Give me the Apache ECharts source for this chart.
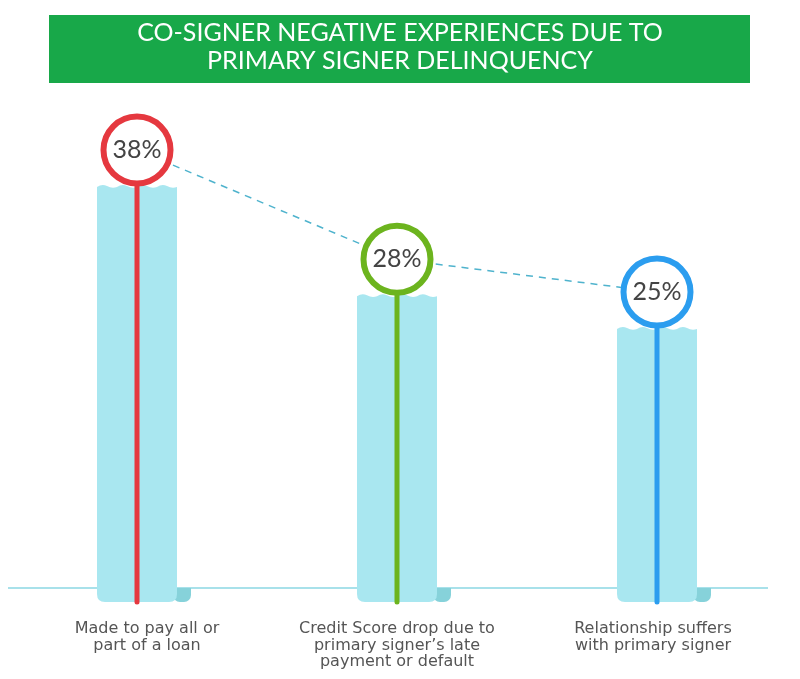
<!DOCTYPE html>
<html><head><meta charset="utf-8">
<script src="https://cdn.jsdelivr.net/npm/echarts@6/dist/echarts.min.js"></script>
<style>html,body{margin:0;padding:0;background:#fff}#c{width:800px;height:679px}</style>
</head><body><div id="c"></div>
<script>
const titleLines = ['CO-SIGNER NEGATIVE EXPERIENCES DUE TO', 'PRIMARY SIGNER DELINQUENCY'];
const categories = ['Made to pay all or\npart of a loan', 'Credit Score drop due to\nprimary signer\u2019s late\npayment or default', 'Relationship suffers\nwith primary signer'];
const values = [38, 28, 25];
const labels = ['38%', '28%', '25%'];
const palette = ['#e5383f', '#6cb41e', '#2b9def'];
const labelShift = [20, 0, -8];

const chart = echarts.init(document.getElementById('c'));
const BAR_W = 80, CIRCLE_OFF = 37, R = 33.5;

function wavePath(x0, x1, y, yb, r) {
  const n = 4, w = (x1 - x0) / n;
  let d = `M${x0},${y}`;
  for (let i = 0; i < n; i++) {
    const a = x0 + i * w;
    d += ` Q${a + w * 0.25},${y - 3.5} ${a + w * 0.5},${y - 1}`;
    d += ` Q${a + w * 0.75},${y + 2} ${a + w},${y}`;
  }
  d += ` L${x1},${yb - r} Q${x1},${yb} ${x1 - r},${yb} L${x0 + r},${yb} Q${x0},${yb} ${x0},${yb - r} Z`;
  return d;
}

const teeth = (x, dir) => {
  const pts = [];
  for (let y = 15; y <= 85; y += 4) { pts.push([x + ((y / 4) % 2 ? dir * 3 : 0), y]); }
  return pts;
};
const leftEdge = teeth(46, 1), rightEdge = teeth(753, -1).reverse();
const bannerPts = leftEdge.concat(rightEdge);

chart.setOption({
  animation: false,
  title: {
    text: titleLines.join('\n'), left: 'center', top: 14,
    textStyle: { color: '#fff', fontSize: 25, fontWeight: 'normal', fontFamily: 'Lato', lineHeight: 28 }
  },
  graphic: [
    { type: 'polygon', shape: { points: bannerPts }, style: { fill: '#18a849' }, z: -1 },
    { type: 'line', shape: { x1: 8, y1: 588, x2: 768, y2: 588 }, style: { stroke: '#a8e1ea', lineWidth: 2 }, z: -1 }
  ],
  grid: { left: 7, right: 13, top: 56, bottom: 77 },
  xAxis: {
    type: 'category',
    data: categories.map((c, i) => ({ value: c, textStyle: { padding: labelShift[i] >= 0 ? [0, 0, 0, labelShift[i]] : [0, -labelShift[i], 0, 0] } })),
    axisLine: { show: false }, axisTick: { show: false },
    axisLabel: { margin: 19, fontSize: 16, lineHeight: 16.5, color: '#555', fontFamily: 'DejaVu Sans', interval: 0 }
  },
  yAxis: { type: 'value', min: 0, max: 50, show: false, splitLine: { show: false } },
  series: [
    {
      type: 'custom', z: 1,
      data: values.map((v, i) => [i, v]),
      renderItem: (params, api) => {
        const i = api.value(0);
        const top = api.coord([i, api.value(1)]);
        const base = api.coord([i, 0]);
        const x0 = top[0] - BAR_W / 2, x1 = top[0] + BAR_W / 2;
        return {
          type: 'group', children: [
            { type: 'rect', shape: { x: x1 - 4, y: base[1] - 14, width: 18, height: 14, r: [0, 0, 7, 7] }, style: { fill: '#86d2da' } },
            { type: 'path', shape: { pathData: wavePath(x0, x1, top[1], base[1], 8) }, style: { fill: '#a9e7f0' } },
            { type: 'line', shape: { x1: top[0], y1: top[1] - CIRCLE_OFF, x2: top[0], y2: base[1] }, style: { stroke: palette[i], lineWidth: 5, lineCap: 'round' } }
          ]
        };
      }
    },
    {
      type: 'custom', z: 2,
      data: values.map((v, i) => [i, v]),
      renderItem: (params, api) => {
        const i = api.value(0);
        if (i >= values.length - 1) return null;
        const a = api.coord([i, values[i]]);
        const b = api.coord([i + 1, values[i + 1]]);
        return { type: 'line', shape: { x1: a[0], y1: a[1] - CIRCLE_OFF, x2: b[0], y2: b[1] - CIRCLE_OFF }, style: { stroke: '#4fb3cd', lineWidth: 1.5, lineDash: [7, 6] } };
      }
    },
    {
      type: 'custom', z: 3,
      data: values.map((v, i) => [i, v]),
      renderItem: (params, api) => {
        const i = api.value(0);
        const p = api.coord([i, api.value(1)]);
        const cy = p[1] - CIRCLE_OFF;
        return {
          type: 'group', children: [
            { type: 'circle', shape: { cx: p[0], cy: cy, r: R }, style: { fill: '#fff', stroke: palette[i], lineWidth: 6 } },
            { type: 'text', style: { x: p[0], y: cy, text: labels[i], align: 'center', verticalAlign: 'middle', fontSize: 25, fontFamily: 'Lato', fill: '#444' } }
          ]
        };
      }
    }
  ]
});
</script></body></html>
